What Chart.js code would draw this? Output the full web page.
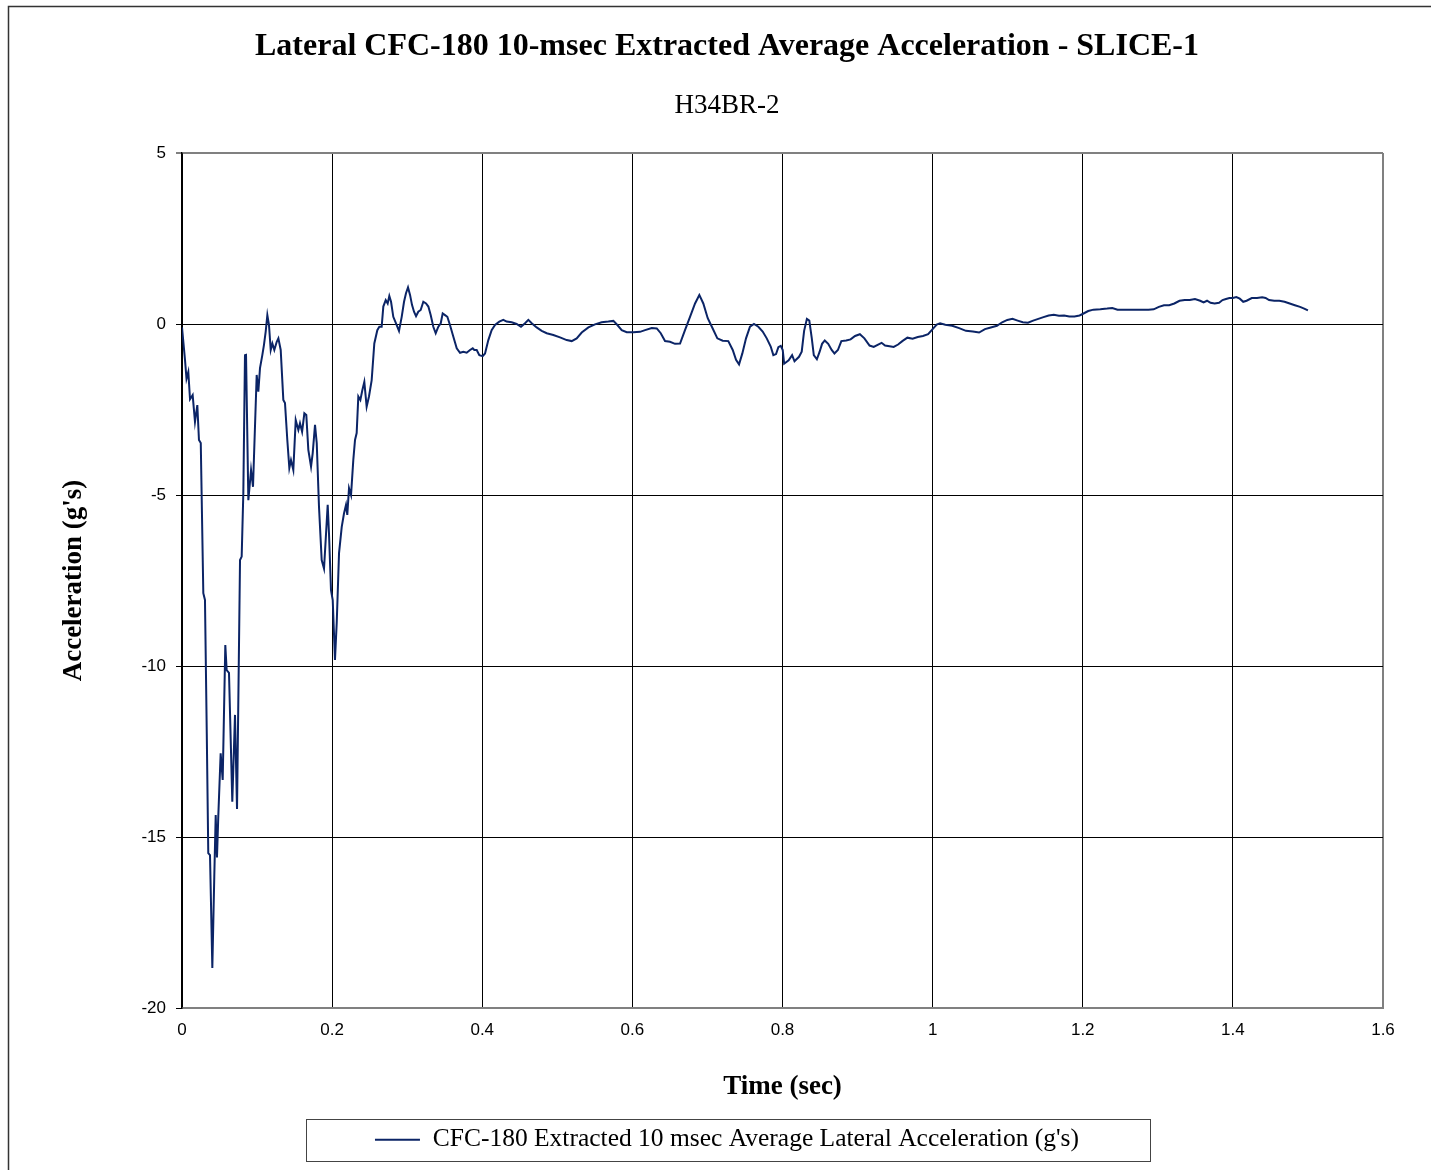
<!DOCTYPE html>
<html lang="en">
<head>
    <meta charset="UTF-8">
    <title>Lateral CFC-180 10-msec Extracted Average Acceleration - SLICE-1</title>
    <script src="https://cdn.jsdelivr.net/npm/chart.js"></script>
    <style>
        body {
            margin: 0;
            background-color: #ffffff;
        }
        canvas {
            display: block;
        }
    </style>
</head>
<body>
    <canvas id="accelChart" width="1431" height="1170"></canvas>

    <script>
        // Time (sec)
        const timeSec = [
            0, 0.004, 0.006, 0.0084, 0.0107, 0.0142, 0.0173, 0.0204, 0.0226, 0.025,
            0.0284, 0.0306, 0.033, 0.035, 0.0373, 0.0404, 0.043, 0.0449, 0.0466, 0.0484,
            0.0515, 0.0542, 0.0577, 0.0595, 0.0626, 0.067, 0.0706, 0.0733, 0.0773, 0.0795,
            0.0817, 0.0839, 0.0853, 0.0884, 0.092, 0.0946, 0.0995, 0.1017, 0.1039, 0.107,
            0.1092, 0.1115, 0.1137, 0.1159, 0.1182, 0.1204, 0.123, 0.1262, 0.1284, 0.1315,
            0.135, 0.1372, 0.1403, 0.143, 0.1452, 0.1483, 0.1515, 0.155, 0.1572, 0.16,
            0.163, 0.1656, 0.1683, 0.1719, 0.1741, 0.1772, 0.1795, 0.1825, 0.1861, 0.1892,
            0.1914, 0.1941, 0.1958, 0.1985, 0.2008, 0.2038, 0.2061, 0.2092, 0.2128, 0.2158,
            0.2185, 0.2202, 0.2225, 0.2252, 0.2282, 0.2305, 0.2327, 0.2349, 0.2376, 0.2403,
            0.2429, 0.246, 0.2491, 0.2527, 0.2562, 0.2602, 0.2629, 0.266, 0.2682, 0.2714,
            0.274, 0.2762, 0.2785, 0.2815, 0.2851, 0.2891, 0.2927, 0.2958, 0.2984, 0.3011,
            0.3038, 0.3064, 0.3091, 0.3118, 0.3148, 0.318, 0.3215, 0.3251, 0.3282, 0.3313,
            0.3348, 0.338, 0.3415, 0.3447, 0.3473, 0.3504, 0.3535, 0.357, 0.3615, 0.366,
            0.3704, 0.3748, 0.3793, 0.3837, 0.3873, 0.3894, 0.3926, 0.3961, 0.4006, 0.4037,
            0.4081, 0.4125, 0.417, 0.4227, 0.428, 0.4325, 0.4392, 0.4458, 0.4516, 0.457,
            0.4614, 0.4659, 0.4725, 0.4792, 0.4859, 0.4947, 0.5036, 0.5125, 0.5192, 0.5258,
            0.5325, 0.5414, 0.5502, 0.5591, 0.568, 0.5747, 0.58, 0.5858, 0.5925, 0.6014,
            0.6102, 0.6169, 0.6258, 0.6325, 0.6378, 0.6435, 0.6501, 0.6568, 0.6635, 0.6701,
            0.6768, 0.6835, 0.6892, 0.6945, 0.7004, 0.707, 0.7132, 0.7203, 0.7278, 0.7337,
            0.7381, 0.7421, 0.7465, 0.7514, 0.7567, 0.762, 0.7678, 0.7736, 0.779, 0.7843,
            0.7878, 0.7914, 0.7945, 0.7977, 0.8003, 0.8022, 0.8082, 0.8128, 0.816, 0.822,
            0.8256, 0.8288, 0.8325, 0.8357, 0.8389, 0.8417, 0.8458, 0.8495, 0.8527, 0.8563,
            0.8609, 0.8655, 0.8692, 0.8738, 0.8784, 0.8848, 0.8907, 0.8967, 0.9031, 0.9091,
            0.916, 0.9215, 0.9274, 0.932, 0.9366, 0.9426, 0.9481, 0.954, 0.9596, 0.9664,
            0.9733, 0.9802, 0.9871, 0.994, 1.0, 1.0054, 1.01, 1.0169, 1.0261, 1.0353,
            1.0444, 1.0536, 1.0619, 1.0697, 1.0775, 1.0857, 1.0926, 1.0995, 1.1064, 1.1133,
            1.1201, 1.127, 1.1339, 1.1408, 1.1477, 1.1546, 1.1614, 1.1683, 1.1752, 1.1821,
            1.189, 1.1958, 1.2004, 1.2073, 1.2142, 1.2234, 1.2325, 1.2394, 1.2463, 1.2532,
            1.26, 1.2692, 1.2784, 1.2876, 1.2945, 1.3014, 1.3082, 1.3151, 1.322, 1.3289,
            1.3358, 1.3426, 1.3495, 1.3564, 1.361, 1.3656, 1.3702, 1.3757, 1.3816, 1.3862,
            1.3908, 1.3954, 1.4, 1.4046, 1.4092, 1.4138, 1.4183, 1.4252, 1.4321, 1.439,
            1.4436, 1.4482, 1.4551, 1.4619, 1.4688, 1.4757, 1.4826, 1.4895, 1.495, 1.5
        ];

        // Lateral acceleration (g's) at each time above
        const accelG = [
            -0.1, -1.05, -1.6, -1.4, -2.2, -2.08, -2.86, -2.37, -3.39, -3.48,
            -7.87, -8.07, -11.97, -15.47, -15.53, -18.83, -16.17, -14.36, -15.6, -14.36,
            -12.55, -13.33, -9.39, -10.12, -10.2, -13.97, -11.43, -14.18, -6.9, -6.8,
            -4.94, -0.91, -0.9, -5.15, -4.27, -4.76, -1.49, -1.98, -1.29, -0.91,
            -0.61, -0.22, 0.26, -0.03, -0.76, -0.57, -0.76, -0.52, -0.42, -0.76,
            -2.22, -2.31, -3.39, -4.21, -3.98, -4.27, -2.81, -3.1, -2.9, -3.15,
            -2.61, -2.66, -3.68, -4.17, -3.78, -2.95, -3.48, -5.34, -6.9, -7.15,
            -6.32, -5.29, -6.11, -7.78, -8.07, -9.82, -8.75, -6.7, -5.93, -5.54,
            -5.29, -5.58, -4.8, -5.0, -3.98, -3.39, -3.19, -2.12, -2.22, -1.93,
            -1.69, -2.42, -2.12, -1.64, -0.57, -0.18, -0.08, -0.08, 0.51, 0.7,
            0.6, 0.82, 0.65, 0.21, 0.02, -0.2, 0.21, 0.65, 0.9, 1.07,
            0.85, 0.56, 0.36, 0.23, 0.36, 0.41, 0.65, 0.6, 0.51, 0.26,
            -0.08, -0.27, -0.08, 0.02, 0.31, 0.26, 0.21, -0.03, -0.37, -0.71,
            -0.84, -0.81, -0.84, -0.76, -0.71, -0.76, -0.76, -0.91, -0.94, -0.86,
            -0.47, -0.18, -0.03, 0.07, 0.12, 0.07, 0.05, 0, -0.08, 0.02,
            0.12, 0.02, -0.1, -0.2, -0.27, -0.32, -0.39, -0.47, -0.5, -0.42,
            -0.25, -0.1, -0.01, 0.05, 0.07, 0.09, -0.03, -0.18, -0.24, -0.24,
            -0.23, -0.18, -0.12, -0.13, -0.27, -0.5, -0.52, -0.58, -0.57, -0.18,
            0.21, 0.6, 0.85, 0.6, 0.17, -0.13, -0.42, -0.49, -0.5, -0.76,
            -1.05, -1.18, -0.86, -0.42, -0.08, 0, -0.08, -0.22, -0.42, -0.66,
            -0.91, -0.88, -0.68, -0.64, -0.76, -1.16, -1.06, -0.91, -1.09, -0.96,
            -0.81, -0.2, 0.15, 0.1, -0.4, -0.91, -1.03, -0.81, -0.58, -0.48,
            -0.58, -0.76, -0.86, -0.76, -0.5, -0.48, -0.45, -0.35, -0.3, -0.42,
            -0.63, -0.67, -0.6, -0.55, -0.63, -0.65, -0.67, -0.6, -0.5, -0.4,
            -0.43, -0.38, -0.35, -0.3, -0.15, -0.02, 0.02, -0.02, -0.05, -0.12,
            -0.2, -0.22, -0.25, -0.15, -0.1, -0.05, 0.05, 0.12, 0.15, 0.1,
            0.05, 0.04, 0.1, 0.15, 0.2, 0.25, 0.27, 0.24, 0.25, 0.22,
            0.22, 0.25, 0.3, 0.38, 0.42, 0.43, 0.45, 0.47, 0.42, 0.42,
            0.42, 0.42, 0.42, 0.42, 0.43, 0.5, 0.55, 0.55, 0.6, 0.68,
            0.7, 0.7, 0.73, 0.68, 0.63, 0.68, 0.62, 0.6, 0.62, 0.7,
            0.73, 0.76, 0.76, 0.79, 0.74, 0.65, 0.68, 0.76, 0.76, 0.78,
            0.76, 0.7, 0.68, 0.68, 0.65, 0.6, 0.55, 0.5, 0.45, 0.4
        ];

        const xTickLabels = ['0', '0.2', '0.4', '0.6', '0.8', '1', '1.2', '1.4', '1.6'];
        const yTickLabels = ['-20', '-15', '-10', '-5', '0', '5'];

        const seriesLabel = "CFC-180 Extracted 10 msec Average Lateral Acceleration (g's)";
        const lineColor = '#0b2466';
        const serif = "'Liberation Serif', 'Times New Roman', serif";
        const sans = "'Liberation Sans', Arial, sans-serif";

        const points = timeSec.map((t, i) => ({ x: t, y: accelG[i] }));

        // thin frame round the whole chart (left and top edges only show)
        const framePlugin = {
            id: 'frame',
            beforeDraw(chart) {
                const ctx = chart.ctx;
                ctx.save();
                ctx.fillStyle = '#ffffff';
                ctx.fillRect(0, 0, chart.width, chart.height);
                ctx.strokeStyle = '#333333';
                ctx.lineWidth = 1.5;
                ctx.beginPath();
                ctx.moveTo(8.5, chart.height + 5);
                ctx.lineTo(8.5, 6.5);
                ctx.lineTo(chart.width + 5, 6.5);
                ctx.stroke();
                ctx.restore();
            }
        };

        // box drawn round the legend entry
        const legendBoxPlugin = {
            id: 'legendBox',
            afterDraw(chart) {
                const lg = chart.legend;
                if (!lg || !lg.legendHitBoxes.length) return;
                const hb = lg.legendHitBoxes[0];
                const ctx = chart.ctx;
                ctx.save();
                ctx.strokeStyle = '#444444';
                ctx.lineWidth = 1;
                ctx.strokeRect(Math.round(hb.left - 69) + 0.5, Math.round(lg.top) + 0.5,
                               Math.round(hb.width + 140), 42);
                ctx.restore();
            }
        };

        const ctx = document.getElementById('accelChart').getContext('2d');

        new Chart(ctx, {
            type: 'line',
            data: {
                datasets: [{
                    label: seriesLabel,
                    data: points,
                    borderColor: lineColor,
                    backgroundColor: lineColor,
                    borderWidth: 2,
                    pointRadius: 0,
                    tension: 0,
                    fill: false
                }]
            },
            options: {
                responsive: false,
                animation: false,
                layout: {
                    padding: { left: 71, right: 48, top: 0, bottom: 7.5 }
                },
                plugins: {
                    title: {
                        display: true,
                        text: 'Lateral CFC-180 10-msec Extracted Average Acceleration - SLICE-1',
                        color: '#000000',
                        font: { family: serif, size: 32, weight: 'bold' },
                        padding: { top: 27.5, bottom: 0 }
                    },
                    subtitle: {
                        display: true,
                        text: 'H34BR-2',
                        color: '#000000',
                        font: { family: serif, size: 27 },
                        padding: { top: 23.5, bottom: 31.2 }
                    },
                    legend: {
                        display: true,
                        position: 'bottom',
                        labels: {
                            color: '#000000',
                            font: { family: serif, size: 25.5 },
                            boxWidth: 45,
                            boxHeight: 0,
                            padding: 8
                        }
                    },
                    tooltip: { enabled: false }
                },
                scales: {
                    x: {
                        type: 'linear',
                        min: 0,
                        max: 1.6,
                        afterFit(scale) { scale.height = 111; },
                        ticks: {
                            stepSize: 0.2,
                            color: '#000000',
                            padding: 12,
                            font: { family: sans, size: 17 },
                            callback: (v, i) => xTickLabels[i]
                        },
                        grid: {
                            drawTicks: false,
                            color: (c) => c.index === xTickLabels.length - 1 ? '#808080' : '#000000',
                            lineWidth: (c) => c.index === xTickLabels.length - 1 ? 2 : 1
                        },
                        border: { display: true, color: '#808080', width: 2 },
                        title: {
                            display: true,
                            text: 'Time (sec)',
                            color: '#000000',
                            font: { family: serif, size: 27, weight: 'bold' },
                            padding: { top: 0, bottom: 15.8 }
                        }
                    },
                    y: {
                        type: 'linear',
                        min: -20,
                        max: 5,
                        afterFit(scale) { scale.width = 111; },
                        ticks: {
                            stepSize: 5,
                            color: '#000000',
                            padding: 10,
                            font: { family: sans, size: 17 },
                            callback: (v, i) => yTickLabels[i]
                        },
                        grid: {
                            tickLength: 6,
                            color: (c) => c.index === yTickLabels.length - 1 ? '#808080' : '#000000',
                            lineWidth: (c) => c.index === yTickLabels.length - 1 ? 2 : 1
                        },
                        border: { display: true, color: '#000000', width: 1.5 },
                        title: {
                            display: true,
                            text: "Acceleration (g's)",
                            color: '#000000',
                            font: { family: serif, size: 27, weight: 'bold' },
                            padding: { top: -13.2, bottom: 0 }
                        }
                    }
                }
            },
            plugins: [framePlugin, legendBoxPlugin]
        });
    </script>
</body>
</html>
